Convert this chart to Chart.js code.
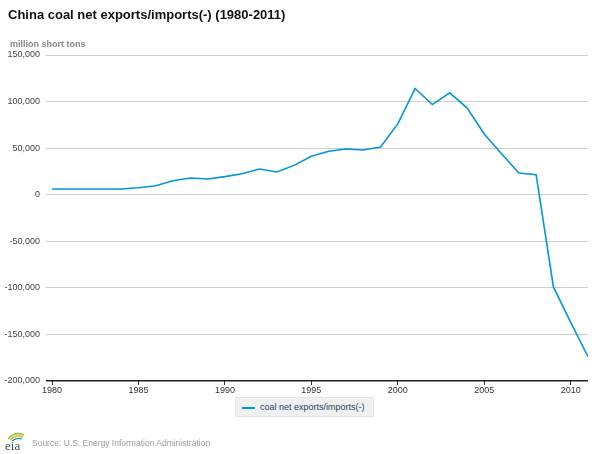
<!DOCTYPE html>
<html>
<head>
<meta charset="utf-8">
<script src="https://cdn.jsdelivr.net/npm/chart.js@4/dist/chart.umd.min.js"></script>
<style>
  body { margin: 0; background: #fff; font-family: "Liberation Sans", Arial, sans-serif; }
  #wrap { position: relative; width: 600px; height: 454px; }
  #titulo { position: absolute; left: 8px; top: 7px; font-size: 13px; font-weight: bold; color: #111; }
  #unidade { position: absolute; left: 10px; top: 39px; font-size: 9px; font-weight: bold; color: #888; }
  #legenda { position: absolute; left: 235px; top: 397px; height: 18px; padding: 0 8px 0 6px; background: #eef0f2; border: 1px solid #e2e4e7; font-size: 9px; color: #2d3f5c; line-height: 18px; }
  #legenda span.linha { display: inline-block; width: 13px; height: 2px; background: #0096d7; vertical-align: middle; margin-right: 5px; }
  #fonte { position: absolute; left: 32px; top: 438px; font-size: 8.5px; color: #999; }
  #logo { position: absolute; left: 4px; top: 429px; }
  canvas { position: absolute; left: 0; top: 0; }
</style>
</head>
<body>
<div id="wrap">
  <canvas id="grafico" width="600" height="454"></canvas>
  <div id="titulo">China coal net exports/imports(-) (1980-2011)</div>
  <div id="unidade">million short tons</div>
  <div id="legenda"></div>
  <svg id="logo" width="24" height="24" viewBox="0 0 24 24">
    <path d="M4 10 Q11 2 20 6" stroke="#8dc63f" stroke-width="1.6" fill="none"/>
    <path d="M6 11 Q12 5 19 8" stroke="#f2b21b" stroke-width="1.4" fill="none"/>
    <path d="M8 12 Q13 8 18 10" stroke="#0096d7" stroke-width="1.2" fill="none"/>
    <text x="1" y="21" font-family="Liberation Serif" font-size="13" fill="#3a4e66">eia</text>
  </svg>
  <div id="fonte">Source: U.S. Energy Information Administration</div>
</div>
<script>
const anos = [1980, 1981, 1982, 1983, 1984, 1985, 1986, 1987, 1988, 1989,
              1990, 1991, 1992, 1993, 1994, 1995, 1996, 1997, 1998, 1999,
              2000, 2001, 2002, 2003, 2004, 2005, 2006, 2007, 2008, 2009,
              2010, 2011];
const saldo = [6100, 6100, 6100, 6100, 6100, 7500, 9700, 15000, 17900, 16900,
               19400, 22600, 27600, 24400, 31500, 41200, 46600, 49000, 48000, 51300,
               76000, 114000, 96800, 109400, 93200, 65200, 44000, 23300, 21500, -99000,
               -137000, -173900];
const nomeSerie = 'coal net exports/imports(-)';
const ticksY = [150000, 100000, 50000, 0, -50000, -100000, -150000, -200000];

document.getElementById('legenda').innerHTML = '<span class="linha"></span>' + nomeSerie;

const ctx = document.getElementById('grafico').getContext('2d');
new Chart(ctx, {
    type: 'line',
    data: {
        datasets: [{
            label: nomeSerie,
            data: anos.map((a, i) => ({ x: a, y: saldo[i] })),
            borderColor: '#0096d7',
            borderWidth: 1.6,
            pointRadius: 0,
            tension: 0,
            fill: false
        }]
    },
    options: {
        responsive: false,
        animation: false,
        layout: { padding: { top: 55, right: 12, bottom: 53, left: 0 } },
        plugins: { legend: { display: false }, tooltip: { enabled: false } },
        scales: {
            x: {
                type: 'linear',
                min: 1980,
                max: 2011,
                afterBuildTicks: (ax) => { ax.ticks = [1980, 1985, 1990, 1995, 2000, 2005, 2010].map(v => ({ value: v })); },
                afterFit: (ax) => { ax.height = 20; },
                ticks: {
                    color: '#333',
                    font: { family: 'Liberation Sans', size: 9 },
                    padding: 0,
                    maxRotation: 0,
                    callback: (v) => String(v)
                },
                grid: { drawOnChartArea: false, drawTicks: true, tickLength: 4, color: '#333' },
                border: { display: false }
            },
            y: {
                min: -200000,
                max: 150000,
                afterBuildTicks: (ax) => { ax.ticks = ticksY.map(v => ({ value: v })); },
                afterFit: (ax) => { ax.width = 52; },
                ticks: {
                    color: '#444',
                    font: { family: 'Liberation Sans', size: 9 },
                    padding: 6,
                    callback: (v) => v.toLocaleString('en-US')
                },
                grid: {
                    color: (c) => c.tick && c.tick.value === -200000 ? '#222' : '#cfcfcf',
                    lineWidth: (c) => c.tick && c.tick.value === -200000 ? 1.5 : 1,
                    drawTicks: true,
                    tickLength: 6
                },
                border: { display: false }
            }
        }
    }
});
</script>
</body>
</html>
